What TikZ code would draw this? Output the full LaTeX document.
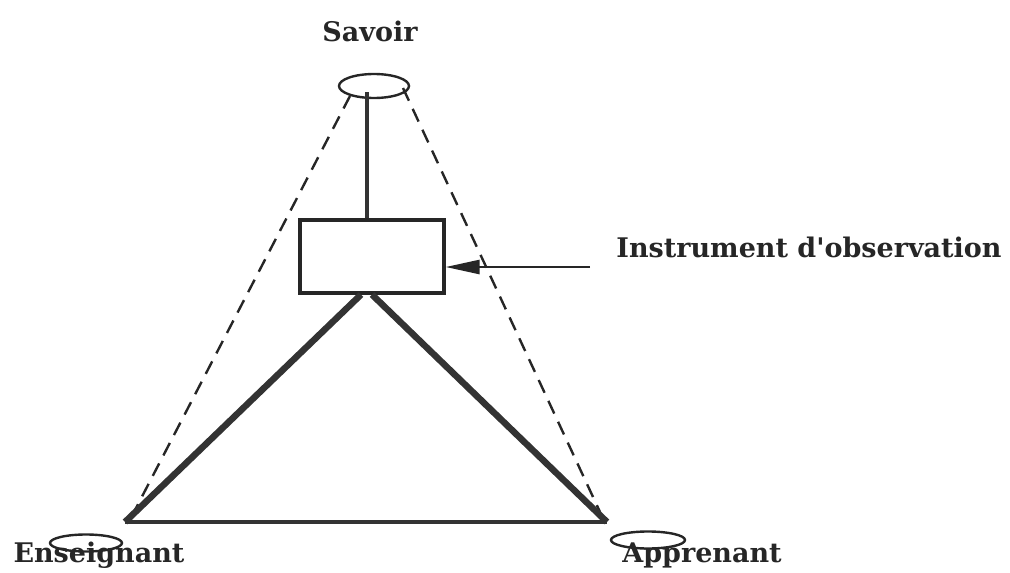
\documentclass[tikz,border=0pt]{standalone}
\usepackage{fontspec}
\setmainfont{DejaVu Serif}
\usetikzlibrary{arrows.meta}
\begin{document}
\begin{tikzpicture}[x=1pt,y=-1pt,
  lbl/.style={font=\bfseries\fontsize{27}{32}\selectfont, text=black!85, inner sep=0pt},
  ring/.style={line width=2.4pt, black!85},
  boxst/.style={draw=black!85, line width=3.2pt, minimum width=144pt, minimum height=73pt, inner sep=0pt},
  thickline/.style={line width=6.5pt, black!80},
  medline/.style={line width=3.6pt, black!80},
  dashline/.style={line width=2.4pt, dash pattern=on 14pt off 9pt, black!85}]
\useasboundingbox (0,0) rectangle (1010,573);
% labels
\node[lbl] (savoirT) at (370,31) {Savoir};
\node[lbl] (instT) at (809,247) {Instrument d\textquotesingle observation};
\node[lbl] (ensT) at (99,555) {Enseignant};
\node[lbl] (appT) at (702,555) {Apprenant};
% ellipses
\draw[ring] (374,86) ellipse [x radius=35, y radius=12];
\draw[ring] (86,543) ellipse [x radius=36, y radius=8.5];
\draw[ring] (648,540) ellipse [x radius=37, y radius=8.5];
\coordinate (sv) at (367,92);
\coordinate (svl) at (350,96);
\coordinate (svr) at (403,88);
\coordinate (E) at (125,522);
\coordinate (A) at (607,522);
\coordinate (Ed) at (134,512);
\coordinate (Ad) at (600,512);
% box
\node[boxst] (box) at (372,256.5) {};
% lines
\draw[medline] (sv) -- (box.north -| sv);
\draw[dashline] (svl) -- (Ed);
\draw[dashline] (svr) -- (Ad);
\draw[thickline] ([xshift=-6pt]box.south -| sv) -- (E);
\draw[thickline] ([xshift=5pt]box.south -| sv) -- (A);
\draw[medline] (E) -- (A);
% arrow
\coordinate (arrS) at (590,267);
\draw[line width=2.6pt, black!85, -{Triangle[length=34pt,width=14pt]}] (arrS) -- (box.east |- arrS);
\end{tikzpicture}
\end{document}
